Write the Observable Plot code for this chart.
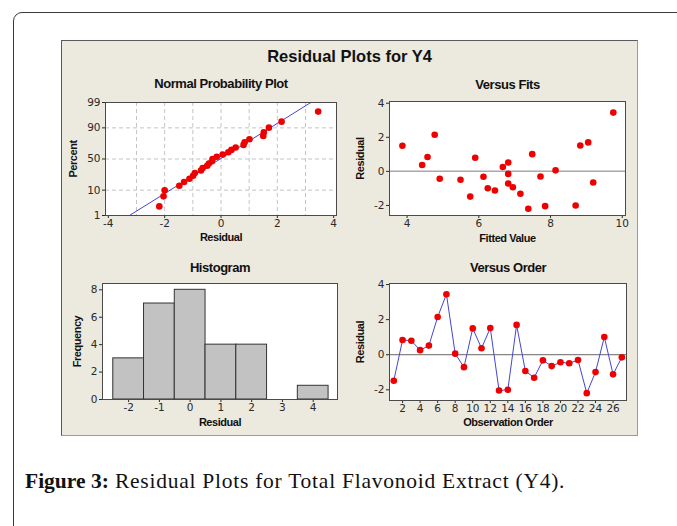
<!DOCTYPE html>
<html>
<head>
<meta charset="utf-8">
<script src="https://cdn.jsdelivr.net/npm/d3@7"></script>
<script src="https://cdn.jsdelivr.net/npm/@observablehq/plot@0.6"></script>
<style>
  html, body { margin: 0; padding: 0; background: #ffffff; }
  #page { position: relative; width: 677px; height: 526px; overflow: hidden; background: #ffffff; }
  #frame { position: absolute; left: 13px; top: 12px; width: 720px; height: 600px;
           border: 1.5px solid #3a3a3a; border-radius: 9px; box-sizing: border-box; }
  #panel { position: absolute; left: 61px; top: 40px; width: 577px; height: 396px; box-sizing: border-box;
           background: #ECE9DF; border-top: 1px solid #5a5a5a; border-left: 1px solid #5a5a5a;
           border-right: 1.5px solid #9a9a9a; border-bottom: 1.5px solid #9a9a9a; }
  #mainTitle { position: absolute; left: 61px; top: 46px; width: 577px; text-align: center;
               font-family: "Liberation Sans", Arial, sans-serif; font-weight: bold; font-size: 16.5px;
               color: #111; line-height: 20px; }
  .chart { position: absolute; }
  .chart svg { overflow: visible; }
  .chart g[aria-label="text"] text { letter-spacing: -0.45px; }
  #caption { position: absolute; left: 25px; top: 468px; font-family: "Liberation Serif", "Times New Roman", serif;
             font-size: 21.5px; color: #111; line-height: 26px; white-space: nowrap; letter-spacing: 0.75px; }
  #caption b { font-weight: bold; font-size: 21.5px; letter-spacing: 0px; }
</style>
</head>
<body>
<div id="page">
  <div id="frame"></div>
  <div id="panel"></div>
  <div id="mainTitle">Residual Plots for Y4</div>
  <div id="npp" class="chart" style="left:62px; top:70px;"></div>
  <div id="fits" class="chart" style="left:348px; top:70px;"></div>
  <div id="hist" class="chart" style="left:62px; top:250px;"></div>
  <div id="order" class="chart" style="left:348px; top:250px;"></div>
  <div id="caption"><b>Figure 3:</b> Residual Plots for Total Flavonoid Extract (Y4).</div>
</div>
<script>
// ---------------- data ----------------
const observations = [1,2,3,4,5,6,7,8,9,10,11,12,13,14,15,16,17,18,19,20,21,22,23,24,25,26,27];
const residuals = [-1.48,0.84,0.80,0.26,0.52,2.15,3.45,0.06,-0.71,1.50,0.37,1.52,-2.04,-2.00,1.70,
                   -0.93,-1.31,-0.32,-0.65,-0.43,-0.49,-0.30,-2.19,-0.99,1.01,-1.12,-0.15];
const fittedValues = [5.76,4.57,5.90,6.67,6.82,4.77,9.75,8.14,6.82,3.87,4.42,8.83,7.85,8.70,9.05,
                      6.95,7.16,6.13,9.19,4.91,5.49,7.72,7.38,6.25,7.49,6.45,6.82];
const histMidpoints = [-2,-1,0,1,2,3,4];
const histCounts = [3,7,8,4,4,0,1];
const fitLineResidual = [-3.25, 3.19];
const fitLinePercent = [1, 99];
const percentTicks = [1,10,50,90,99];
const percentGrid = [10,50,90];
const nppXTicks = [-4,-2,0,2,4];
const nppXGrid = [-3,-2,-1,0,1,2,3];
const fitsXTicks = [4,6,8,10];
const residualTicks = [-2,0,2,4];
const histYTicks = [0,2,4,6,8];
const orderXTicks = [2,4,6,8,10,12,14,16,18,20,22,24,26];

// ---------------- helpers ----------------
function probit(p){
  const a=[-3.969683028665376e+01,2.209460984245205e+02,-2.759285104469687e+02,1.383577518672690e+02,-3.066479806614716e+01,2.506628277459239e+00];
  const b=[-5.447609879822406e+01,1.615858368580409e+02,-1.556989798598866e+02,6.680131188771972e+01,-1.328068155288572e+01];
  const c=[-7.784894002430293e-03,-3.223964580411365e-01,-2.400758277161838e+00,-2.549732539343734e+00,4.374664141464968e+00,2.938163982698783e+00];
  const d=[7.784695709041462e-03,3.224671290700398e-01,2.445134137142996e+00,3.754408661907416e+00];
  const pl=0.02425, ph=1-pl; let q, r;
  if (p < pl) { q=Math.sqrt(-2*Math.log(p)); return (((((c[0]*q+c[1])*q+c[2])*q+c[3])*q+c[4])*q+c[5])/((((d[0]*q+d[1])*q+d[2])*q+d[3])*q+1); }
  if (p <= ph) { q=p-0.5; r=q*q; return (((((a[0]*r+a[1])*r+a[2])*r+a[3])*r+a[4])*r+a[5])*q/(((((b[0]*r+b[1])*r+b[2])*r+b[3])*r+b[4])*r+1); }
  q=Math.sqrt(-2*Math.log(1-p)); return -(((((c[0]*q+c[1])*q+c[2])*q+c[3])*q+c[4])*q+c[5])/((((d[0]*q+d[1])*q+d[2])*q+d[3])*q+1);
}
const zOf = pct => probit(pct/100);
const fmt = d => String(d);

const rows = observations.map((o,i) => ({obs:o, res:residuals[i], fit:fittedValues[i]}));
const n = residuals.length;
// normal probability plotting positions (Benard median ranks) of the sorted residuals
const nppRows = [...residuals].sort((a,b)=>a-b).map((r,i) => ({res:r, pct:100*(i+1-0.3)/(n+0.4)}));
const fitLine = fitLineResidual.map((r,i) => ({res:r, pct:fitLinePercent[i]}));
const hist = histMidpoints.map((m,i) => ({lo:m-0.5, hi:m+0.5, count:histCounts[i]}));

const RED = "#ee0000", BLUE = "#4545d0", FRAME = "#4a4a4a";
const baseStyle = {background:"transparent", fontFamily:"DejaVu Sans, Verdana, sans-serif", fontSize:"10.5px", color:"#2a2a2a", overflow:"visible"};
const titleOpts = {fontFamily:"Liberation Sans, Arial, sans-serif", fontWeight:"bold", fontSize:13, fill:"#111"};
const labelOpts = {fontFamily:"Liberation Sans, Arial, sans-serif", fontWeight:"bold", fontSize:11, fill:"#111"};

function titleMark(t, dy){ return Plot.text([t], {frameAnchor:"top", lineAnchor:"middle", dy, ...titleOpts}); }
function xLabel(t, dy){ return Plot.text([t], {frameAnchor:"bottom", lineAnchor:"middle", dy, ...labelOpts}); }
function yLabel(t, dx){ return Plot.text([t], {frameAnchor:"left", textAnchor:"middle", lineAnchor:"middle", dx, rotate:-90, ...labelOpts}); }

// ---------------- Normal Probability Plot ----------------
const npp = Plot.plot({
  width:285, height:176, marginLeft:43, marginTop:32, marginRight:11, marginBottom:31,
  style: baseStyle,
  x: {domain:[-4.1, 4.1], ticks:nppXTicks, tickFormat:fmt, tickSize:3, tickPadding:1, label:null},
  y: {domain:[zOf(1), zOf(99)], ticks:percentTicks.map(zOf), tickSize:3, tickPadding:2, label:null,
      tickFormat: z => String(percentTicks[percentTicks.map(zOf).findIndex(v => Math.abs(v-z) < 1e-9)])},
  marks: [
    Plot.frame({fill:"white"}),
    Plot.ruleX(nppXGrid, {stroke:"#c4c4c4", strokeDasharray:"4,3"}),
    Plot.ruleY(percentGrid, {y: zOf, stroke:"#c4c4c4", strokeDasharray:"4,3"}),
    Plot.line(fitLine, {x:"res", y: d => zOf(d.pct), stroke:BLUE, strokeWidth:1}),
    Plot.dot(nppRows, {x:"res", y: d => zOf(d.pct), fill:RED, r:3.3}),
    Plot.frame({stroke:FRAME}),
    titleMark("Normal Probability Plot", -19),
    xLabel("Residual", 22),
    yLabel("Percent", -32)
  ]
});
document.getElementById("npp").append(npp);

// ---------------- Versus Fits ----------------
const fits = Plot.plot({
  width:290, height:176, marginLeft:41, marginTop:31, marginRight:13, marginBottom:31,
  style: baseStyle,
  x: {domain:[3.51, 10.09], ticks:fitsXTicks, tickFormat:fmt, tickSize:3, tickPadding:1, label:null},
  y: {domain:[-2.59, 4.1], ticks:residualTicks, tickFormat:fmt, tickSize:3, tickPadding:2, label:null},
  marks: [
    Plot.frame({fill:"white"}),
    Plot.ruleY([0], {stroke:"#a8a8a8", strokeWidth:1.5}),
    Plot.dot(rows, {x:"fit", y:"res", fill:RED, r:3.3}),
    Plot.frame({stroke:FRAME}),
    titleMark("Versus Fits", -17),
    xLabel("Fitted Value", 22.5),
    yLabel("Residual", -29)
  ]
});
document.getElementById("fits").append(fits);

// ---------------- Histogram ----------------
const histPlot = Plot.plot({
  width:285, height:185, marginLeft:40, marginTop:33, marginRight:10, marginBottom:36,
  style: baseStyle,
  x: {domain:[-2.85, 4.79], ticks:histMidpoints, tickFormat:fmt, tickSize:3, tickPadding:1, label:null},
  y: {domain:[0, 8.46], ticks:histYTicks, tickFormat:fmt, tickSize:3, tickPadding:2, label:null},
  marks: [
    Plot.frame({fill:"white"}),
    Plot.rectY(hist.filter(d => d.count > 0), {x1:"lo", x2:"hi", y:"count", fill:"#c2c2c2", stroke:"#333", strokeWidth:1}),
    Plot.frame({stroke:FRAME}),
    titleMark("Histogram", -16),
    xLabel("Residual", 22.5),
    yLabel("Frequency", -25)
  ]
});
document.getElementById("hist").append(histPlot);

// ---------------- Versus Order ----------------
const order = Plot.plot({
  width:290, height:185, marginLeft:41, marginTop:33, marginRight:12, marginBottom:35,
  style: baseStyle,
  x: {domain:[0.51, 27.53], ticks:orderXTicks, tickFormat:fmt, tickSize:3, tickPadding:1, label:null},
  y: {domain:[-2.61, 4.06], ticks:residualTicks, tickFormat:fmt, tickSize:3, tickPadding:2, label:null},
  marks: [
    Plot.frame({fill:"white"}),
    Plot.ruleY([0], {stroke:"#666", strokeWidth:1}),
    Plot.line(rows, {x:"obs", y:"res", stroke:BLUE, strokeWidth:1}),
    Plot.dot(rows, {x:"obs", y:"res", fill:RED, r:3.3}),
    Plot.frame({stroke:FRAME}),
    titleMark("Versus Order", -16),
    xLabel("Observation Order", 22),
    yLabel("Residual", -29)
  ]
});
document.getElementById("order").append(order);
</script>
</body>
</html>
